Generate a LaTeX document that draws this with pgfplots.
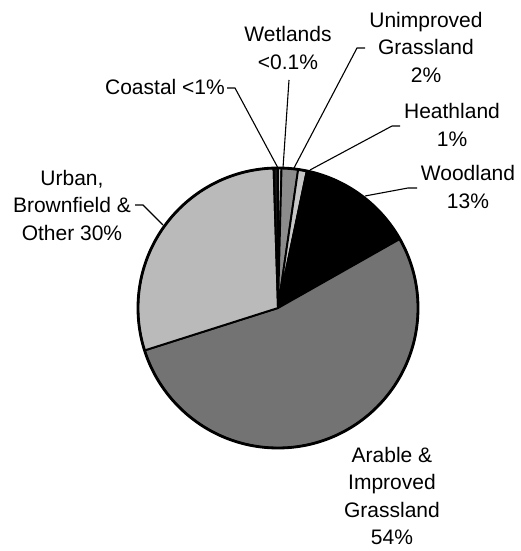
\documentclass[border=0pt]{standalone}
\usepackage{pgfplots}
\pgfplotsset{compat=1.18}
\usepackage{pgfplotstable}
\usepackage{fontspec}
\setmainfont{Liberation Sans}

% share of land cover (percent, as drawn), fill = percent black
\pgfplotstableread{
label value gray
Wetlands 0.4 25
Unimproved 1.9 45
Heathland 1.0 22
Woodland 13.5 100
Arable 53.3 55
Urban 29.4 27
Coastal 0.5 92
}\pietable

% build the wedge commands before the axis
\def\piecmds{}
\gdef\cum{0}
\pgfplotstablegetrowsof{\pietable}
\pgfmathtruncatemacro{\nrows}{\pgfplotsretval-1}
\foreach \i in {0,...,\nrows}{%
  \pgfplotstablegetelem{\i}{value}\of\pietable \let\v\pgfplotsretval
  \pgfplotstablegetelem{\i}{gray}\of\pietable \let\g\pgfplotsretval
  \pgfmathsetmacro{\a}{90-3.6*\cum}%
  \pgfmathsetmacro{\b}{90-3.6*(\cum+\v)}%
  \xdef\piecmds{\unexpanded\expandafter{\piecmds}%
    \noexpand\filldraw[fill=black!\g, draw=black, line width=1.9pt, line join=round]
    (axis cs:278,243) -- ++(\a:140pt) arc[start angle=\a, end angle=\b, radius=140pt] -- cycle;}%
  \pgfmathsetmacro{\c}{\cum+\v}%
  \xdef\cum{\c}%
}

\begin{document}
\begin{tikzpicture}
\begin{axis}[hide axis, x=1pt, y=1pt, xmin=0, xmax=520, ymin=0, ymax=551,
  clip=false, scale only axis]
\path (axis cs:0,0) rectangle (axis cs:520,551);
\piecmds
\draw[line width=2.8pt] (axis cs:278,243) circle[radius=140pt];
% leader lines
\begin{scope}[line width=1.1pt]
\draw (axis cs:227,463) -- (axis cs:235,463) -- (axis cs:278,383);
\draw (axis cs:289,471) -- (axis cs:283,383);
\draw (axis cs:365,503) -- (axis cs:357,503) -- (axis cs:294,383);
\draw (axis cs:400,425) -- (axis cs:392,425) -- (axis cs:310,381);
\draw (axis cs:417,363) -- (axis cs:408,363) -- (axis cs:365,355);
\draw (axis cs:135,346) -- (axis cs:143,346) -- (axis cs:163,326);
\end{scope}
% labels
\begin{scope}[every node/.style={align=center, inner sep=0pt, font=\fontsize{21}{27.5}\selectfont}]
\node[anchor=east] at (axis cs:225,464) {Coastal <1\%};
\node at (axis cs:288,503) {Wetlands\\<0.1\%};
\node at (axis cs:426,504) {Unimproved\\Grassland\\2\%};
\node at (axis cs:452,426) {Heathland\\1\%};
\node at (axis cs:468,364) {Woodland\\13\%};
\node at (axis cs:72,346) {Urban,\\Brownfield \&\\Other 30\%};
\node at (axis cs:392,55) {Arable \&\\Improved\\Grassland\\54\%};
\end{scope}
\end{axis}
\end{tikzpicture}
\end{document}
